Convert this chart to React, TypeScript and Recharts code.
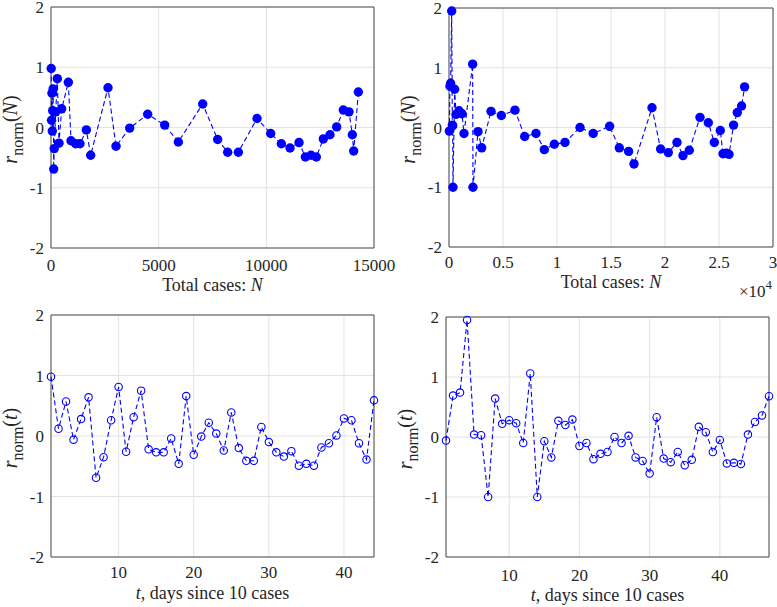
import React from "react";
import { LineChart, Line, XAxis, YAxis, CartesianGrid, ReferenceArea } from "recharts";

// left column: 44 days
const casesA = [10, 25, 45, 60, 80, 100, 125, 150, 217, 294, 371, 495, 805, 929, 1146, 1347, 1641, 1842, 2647, 3019, 3653, 4489, 5279, 5913, 7044, 7740, 8205, 8700, 9567, 10201, 10697, 11100, 11518, 11812, 12074, 12322, 12647, 12957, 13267, 13576, 13839, 13994, 14056, 14273];
const daysA = [1, 2, 3, 4, 5, 6, 7, 8, 9, 10, 11, 12, 13, 14, 15, 16, 17, 18, 19, 20, 21, 22, 23, 24, 25, 26, 27, 28, 29, 30, 31, 32, 33, 34, 35, 36, 37, 38, 39, 40, 41, 42, 43, 44];
const rA = [0.98, 0.12, 0.57, -0.06, 0.28, 0.64, -0.69, -0.35, 0.26, 0.81, -0.26, 0.31, 0.75, -0.22, -0.27, -0.27, -0.04, -0.46, 0.66, -0.31, -0.01, 0.22, 0.04, -0.24, 0.39, -0.2, -0.41, -0.41, 0.15, -0.1, -0.27, -0.34, -0.25, -0.49, -0.46, -0.49, -0.19, -0.12, 0.01, 0.29, 0.26, -0.12, -0.39, 0.59];

// right column: 47 days
const casesB = [30, 90, 150, 250, 310, 340, 370, 525, 650, 925, 1200, 1390, 2190, 2220, 2685, 3025, 3890, 4845, 6110, 7005, 8055, 8826, 9752, 10740, 12130, 13350, 14870, 15768, 16630, 17130, 18796, 19595, 20305, 21110, 21666, 22250, 23240, 24010, 24565, 25120, 25370, 25680, 25925, 26350, 26695, 27090, 27370];
const daysB = [1, 2, 3, 4, 5, 6, 7, 8, 9, 10, 11, 12, 13, 14, 15, 16, 17, 18, 19, 20, 21, 22, 23, 24, 25, 26, 27, 28, 29, 30, 31, 32, 33, 34, 35, 36, 37, 38, 39, 40, 41, 42, 43, 44, 45, 46, 47];
const rB = [-0.06, 0.69, 0.74, 1.95, 0.04, 0.03, -1.0, 0.64, 0.22, 0.28, 0.23, -0.1, 1.06, -1.0, -0.07, -0.34, 0.27, 0.2, 0.29, -0.15, -0.1, -0.37, -0.28, -0.25, 0.0, -0.1, 0.02, -0.34, -0.4, -0.61, 0.33, -0.36, -0.42, -0.25, -0.47, -0.38, 0.17, 0.08, -0.25, -0.05, -0.44, -0.43, -0.45, 0.04, 0.25, 0.36, 0.68];

const yTicks = [-2, -1, 0, 1, 2];
const ticksA = [0, 5000, 10000, 15000];
const ticksB = [0, 5000, 10000, 15000, 20000, 25000, 30000];
const dayTicks = [10, 20, 30, 40];

const serif = "'Liberation Serif', 'Times New Roman', serif";
const ink = "#262626";
const blue = "#0000ff";

const zip = (xs: number[], ys: number[]) => xs.map((x, i) => ({ x, r: ys[i] }));

type PanelProps = {
  box: { left: number; top: number; width: number; height: number };
  plot: { left: number; top: number; right: number; bottom: number };
  data: { x: number; r: number }[];
  domain: [number, number];
  ticks: number[];
  fmt?: (v: number) => string;
  filled: boolean;
  yVar: string;
  xLabel: React.ReactNode;
  labelDy: number;
  tickGap: number;
  exponent?: boolean;
};

function Panel(p: PanelProps) {
  const margin = {
    top: p.plot.top - p.box.top,
    right: p.box.left + p.box.width - p.plot.right,
    bottom: p.box.top + p.box.height - p.plot.bottom - 30,
    left: p.plot.left - p.box.left - 40,
  };

  const xLabel = (props: any) => {
    const vb = props.viewBox;
    return (
      <g>
        <text x={vb.x + vb.width / 2} y={vb.y + p.labelDy} textAnchor="middle" fontFamily={serif} fontSize={18} fill={ink}>
          {p.xLabel}
        </text>
        {p.exponent && (
          <text x={vb.x + vb.width - 1} y={vb.y + 50} textAnchor="end" fontFamily={serif} fontSize={17} fill={ink}>
            ×10<tspan fontSize={13} dy={-8}>4</tspan>
          </text>
        )}
      </g>
    );
  };

  const yLabel = (props: any) => {
    const vb = props.viewBox;
    const cx = vb.x + vb.width - 34;
    const cy = vb.y + vb.height / 2 + 2;
    return (
      <text x={cx} y={cy} transform={`rotate(-90 ${cx} ${cy})`} textAnchor="middle" fontFamily={serif} fontSize={20} fill={ink}>
        <tspan fontStyle="italic">r</tspan>
        <tspan fontSize={16} dy={6}>norm</tspan>
        <tspan dy={-6}>(</tspan>
        <tspan fontStyle="italic">{p.yVar}</tspan>
        <tspan>)</tspan>
      </text>
    );
  };

  const dot = p.filled
    ? { r: 4.7, fill: blue, stroke: blue, strokeWidth: 0, strokeDasharray: "none" }
    : { r: 3.7, fill: "none", stroke: blue, strokeWidth: 1.1, strokeDasharray: "none" };

  return (
    <div style={{ position: "absolute", left: p.box.left, top: p.box.top }}>
      <LineChart width={p.box.width} height={p.box.height} data={p.data} margin={margin}>
        <CartesianGrid stroke="#e3e3e3" strokeWidth={1} />
        <XAxis
          type="number"
          dataKey="x"
          domain={p.domain}
          ticks={p.ticks}
          tickFormatter={p.fmt}
          height={30}
          axisLine={false}
          tickLine={false}
          tickSize={0}
          tickMargin={p.tickGap}
          interval={0}
          tick={{ fill: ink, fontSize: 17, fontFamily: serif }}
          label={xLabel}
        />
        <YAxis
          type="number"
          domain={[-2, 2]}
          ticks={yTicks}
          width={40}
          axisLine={false}
          tickLine={false}
          tickSize={0}
          tickMargin={7}
          interval={0}
          tick={{ fill: ink, fontSize: 17, fontFamily: serif }}
          label={yLabel}
        />
        <ReferenceArea x1={p.domain[0]} x2={p.domain[1]} y1={-2} y2={2} fill="none" stroke="#4d4d4d" strokeWidth={1} />
        <Line
          type="linear"
          dataKey="r"
          stroke={blue}
          strokeWidth={1.1}
          strokeDasharray="5 3"
          dot={dot}
          activeDot={false}
          isAnimationActive={false}
        />
      </LineChart>
    </div>
  );
}

const casesLabel = (
  <>
    Total cases: <tspan fontStyle="italic">N</tspan>
  </>
);
const daysLabel = (
  <>
    <tspan fontStyle="italic">t</tspan>, days since 10 cases
  </>
);

export default function App() {
  return (
    <div style={{ position: "relative", width: 777, height: 607, background: "#fff", overflow: "hidden" }}>
      <style>{"body{margin:0}"}</style>
      <Panel
        box={{ left: 0, top: 0, width: 405, height: 303 }}
        plot={{ left: 51, top: 7, right: 374, bottom: 248 }}
        data={zip(casesA, rA)}
        domain={[0, 15000]}
        ticks={ticksA}
        filled
        yVar="N"
        xLabel={casesLabel}
        labelDy={43}
        tickGap={11}
      />
      <Panel
        box={{ left: 390, top: 0, width: 387, height: 303 }}
        plot={{ left: 449, top: 8, right: 773, bottom: 247 }}
        data={zip(casesB, rB)}
        domain={[0, 30000]}
        ticks={ticksB}
        fmt={(v) => String(v / 10000)}
        filled
        yVar="N"
        xLabel={casesLabel}
        labelDy={41}
        tickGap={9}
        exponent
      />
      <Panel
        box={{ left: 0, top: 303, width: 405, height: 304 }}
        plot={{ left: 51, top: 315, right: 374, bottom: 557 }}
        data={zip(daysA, rA)}
        domain={[1, 44]}
        ticks={dayTicks}
        filled={false}
        yVar="t"
        xLabel={daysLabel}
        labelDy={42}
        tickGap={9}
      />
      <Panel
        box={{ left: 390, top: 303, width: 387, height: 304 }}
        plot={{ left: 446, top: 317, right: 769, bottom: 557 }}
        data={zip(daysB, rB)}
        domain={[1, 47]}
        ticks={dayTicks}
        filled={false}
        yVar="t"
        xLabel={daysLabel}
        labelDy={44}
        tickGap={12}
      />
    </div>
  );
}
